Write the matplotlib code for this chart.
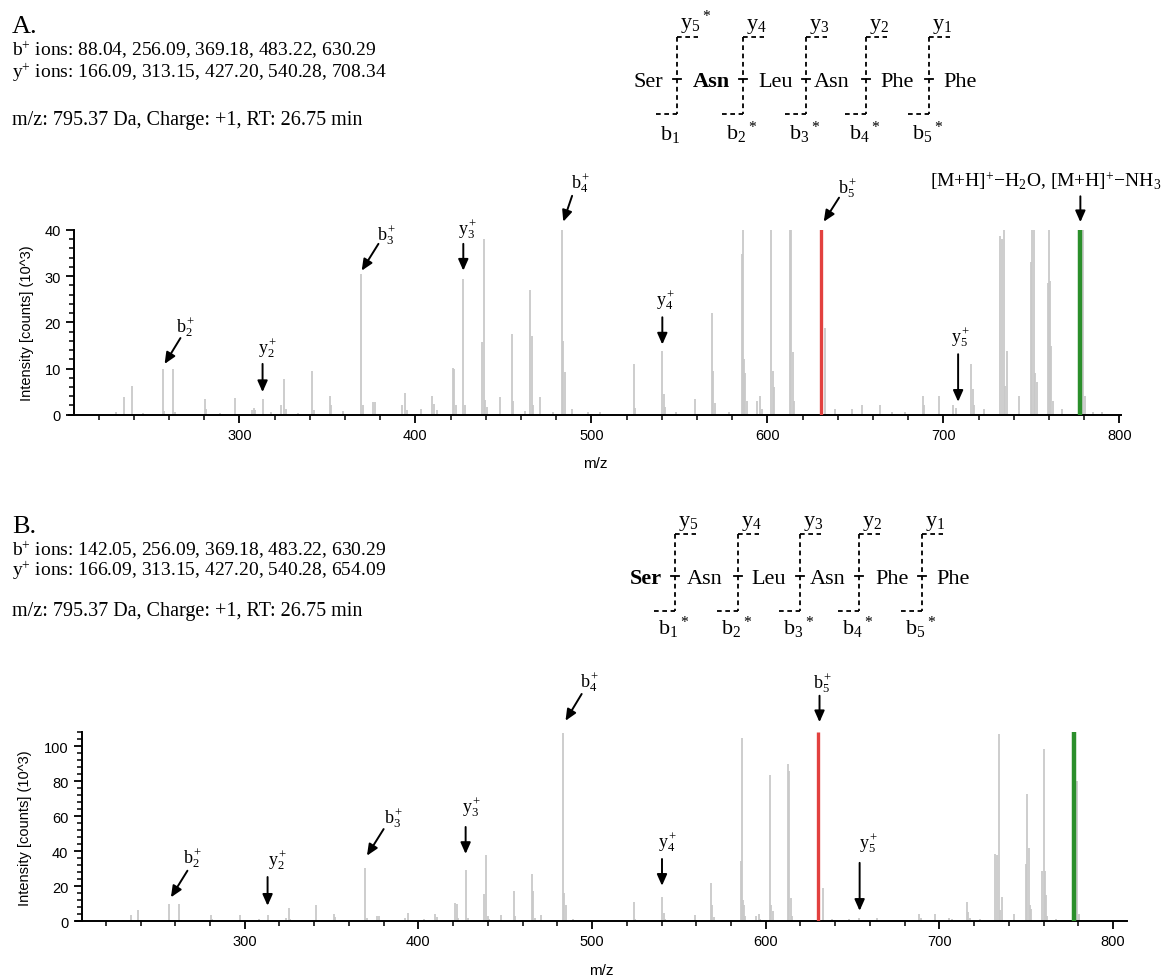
import matplotlib
matplotlib.use('Agg')
import matplotlib.pyplot as plt
from matplotlib.lines import Line2D
from matplotlib.ticker import MultipleLocator

plt.rcParams['mathtext.fontset'] = 'custom'
plt.rcParams['mathtext.rm'] = 'Liberation Serif'
plt.rcParams['mathtext.it'] = 'Liberation Serif:italic'
plt.rcParams['mathtext.bf'] = 'Liberation Serif:bold'
plt.rcParams['font.family'] = ['Liberation Sans', 'DejaVu Sans']

# ------------------------------------------------------------------ data
peak_mz = [230.0, 234.3, 238.7, 245.0, 256.5, 257.3, 262.4, 263.2, 280.3, 281.0,
           289.0, 297.5, 307.0, 308.2, 309.0, 313.4, 318.0, 323.8, 325.4, 326.2,
           333.0, 341.3, 342.2, 351.4, 352.2, 358.6, 369.2, 370.2, 376.0, 377.2,
           392.4, 394.1, 395.0, 403.0, 409.3, 410.6, 412.0, 421.3, 422.0, 422.8,
           427.2, 428.4, 437.8, 438.9, 439.8, 440.6, 447.8, 454.8, 455.7, 462.0,
           465.2, 466.1, 467.0, 470.7, 478.0, 483.2, 484.1, 485.0, 489.0, 498.0,
           505.0, 524.1, 525.0, 540.3, 541.2, 542.0, 548.0, 559.0, 568.5, 569.3,
           570.2, 578.0, 585.6, 586.1, 586.8, 587.4, 588.2, 594.3, 596.0, 597.0,
           602.3, 603.2, 604.0, 612.6, 613.5, 614.4, 615.3, 632.8, 638.3, 648.2,
           654.0, 664.0, 671.0, 678.0, 688.4, 689.2, 697.5, 705.3, 707.0, 715.9,
           716.7, 717.5, 723.3, 732.3, 733.2, 734.2, 735.2, 736.2, 742.7, 749.9,
           750.6, 751.4, 752.3, 753.0, 759.3, 760.0, 760.6, 761.3, 762.0, 767.2,
           779.5, 780.6, 785.0, 790.0]
peak_int = [0.5, 3.8, 6.3, 0.4, 9.9, 0.8, 9.9, 0.6, 3.4, 1.2,
            0.4, 3.6, 1.0, 1.4, 1.0, 3.4, 0.5, 2.0, 7.7, 1.2,
            0.4, 9.5, 1.0, 4.0, 2.2, 0.9, 30.5, 2.0, 2.8, 2.8,
            2.0, 4.8, 1.0, 1.2, 4.1, 2.4, 1.0, 10.2, 10.0, 2.0,
            29.4, 2.0, 15.7, 38.0, 3.2, 1.6, 3.8, 17.5, 3.0, 0.8,
            26.9, 17.1, 2.0, 3.8, 0.6, 107.5, 16.0, 9.2, 1.2, 0.5,
            0.6, 10.9, 1.5, 13.8, 4.5, 1.6, 0.6, 3.4, 22.1, 9.5,
            2.5, 0.5, 34.7, 104.6, 12.0, 9.1, 3.0, 3.0, 4.1, 1.2,
            83.6, 9.5, 6.0, 89.9, 86.0, 13.5, 3.0, 18.8, 1.2, 1.2,
            2.0, 2.0, 0.6, 0.6, 4.1, 2.0, 4.1, 2.0, 1.5, 10.9,
            5.5, 2.0, 1.2, 38.6, 38.0, 107.0, 6.3, 13.8, 4.1, 33.0,
            73.0, 42.0, 9.1, 7.0, 28.6, 98.5, 29.0, 14.9, 3.0, 1.2,
            80.0, 4.1, 0.6, 0.5]
b5_mz, b5_int = 630.29, 108.0          # red highlighted fragment
mh_mz, mh_int = 777.8, 108.0           # green highlighted precursor-loss peak

panel_letters = ['A.', 'B.']
b_ions = ['88.04, 256.09, 369.18, 483.22, 630.29',
          '142.05, 256.09, 369.18, 483.22, 630.29']
y_ions = ['166.09, 313.15, 427.20, 540.28, 708.34',
          '166.09, 313.15, 427.20, 540.28, 654.09']
precursor = 'm/z: 795.37 Da, Charge: +1, RT: 26.75 min'
residues = ['Ser', 'Asn', 'Leu', 'Asn', 'Phe', 'Phe']
bold_residue = [1, 0]
y_frag_labels = [['y_5{}^*', 'y_4', 'y_3', 'y_2', 'y_1'],
                 ['y_5', 'y_4', 'y_3', 'y_2', 'y_1']]
b_frag_labels = [['b_1', 'b_2{}^*', 'b_3{}^*', 'b_4{}^*', 'b_5{}^*'],
                 ['b_1{}^*', 'b_2{}^*', 'b_3{}^*', 'b_4{}^*', 'b_5{}^*']]

ions_A = [('b_2^+', 256.09), ('y_2^+', 313.15), ('b_3^+', 369.18), ('y_3^+', 427.20),
          ('b_4^+', 483.22), ('y_4^+', 540.28), ('b_5^+', 630.29), ('y_5^+', 708.34)]
ions_B = [('b_2^+', 256.09), ('y_2^+', 313.15), ('b_3^+', 369.18), ('y_3^+', 427.20),
          ('b_4^+', 483.22), ('y_4^+', 540.28), ('b_5^+', 630.29), ('y_5^+', 654.09)]
mh_label = '[M+H]$^{+}$\u2212H$_{2}$O, [M+H]$^{+}$\u2212NH$_{3}$'

# ------------------------------------------------------------------ style / layout
W, H = 1166, 978
GRAY = '#c9c9c9'
RED = '#e2413f'
GREEN = '#2b8f2b'
SERIF = 'Liberation Serif'

# arrow layout per ion: (tip dx, tip y, tail dx, tail y, label dx, label y)
arrows_A = [(1.4, 11.0, 10.4, 16.6, 13.5, 19.2),
            (0.0, 4.9, 0.0, 11.0, 2.9, 14.6),
            (0.3, 31.2, 9.8, 37.0, 14.4, 39.2),
            (0.0, 31.2, 0.0, 37.0, 2.8, 40.3),
            (0.8, 41.8, 5.8, 47.4, 10.8, 50.3),
            (0.0, 15.2, 0.0, 21.1, 1.7, 25.0),
            (1.7, 41.8, 10.4, 47.0, 15.5, 49.2),
            (0.0, 2.8, 0.0, 13.1, 1.4, 17.1)]
arrows_B = [(1.4, 13.7, 10.9, 28.9, 14.1, 36.5),
            (0.0, 8.9, 0.0, 25.3, 5.6, 35.6),
            (1.2, 37.5, 10.8, 52.7, 16.8, 59.6),
            (0.0, 38.5, 0.0, 53.9, 3.8, 66.0),
            (1.5, 114.6, 10.8, 129.9, 15.5, 137.3),
            (0.0, 20.3, 0.0, 35.6, 3.3, 46.0),
            (0.7, 113.8, 0.7, 128.9, 2.7, 136.6),
            (0.0, 6.0, 0.0, 33.4, 5.1, 45.1)]


def fx(x):
    return x / W


def fy(y):
    return 1 - y / H


fig = plt.figure(figsize=(W / 100, H / 100), dpi=100)

axA = fig.add_axes([fx(68.7), fy(415.7), 1052.5 / W, (415.7 - 231.0) / H])
axB = fig.add_axes([fx(76.3), fy(922.3), 1050.6 / W, (922.3 - 733.3) / H])


def draw_spectrum(ax, xlim, ymax, ymaj, ymin):
    ax.vlines(peak_mz, 0, peak_int, color=GRAY, lw=1.3, zorder=2)
    ax.vlines([b5_mz], 0, [b5_int], color=RED, lw=2.4, zorder=3)
    ax.vlines([mh_mz], 0, [mh_int], color=GREEN, lw=3.2, zorder=3)
    ax.set_xlim(*xlim)
    ax.set_ylim(0, ymax)
    for s in ['top', 'right']:
        ax.spines[s].set_visible(False)
    ax.spines['left'].set_position(('data', 206))
    for s in ['left', 'bottom']:
        ax.spines[s].set_linewidth(1.4)
    ax.xaxis.set_major_locator(MultipleLocator(100))
    ax.xaxis.set_minor_locator(MultipleLocator(20))
    ax.yaxis.set_major_locator(MultipleLocator(ymaj))
    ax.yaxis.set_minor_locator(MultipleLocator(ymin))
    ax.tick_params(which='major', length=6, width=1.3, labelsize=10.5, direction='out')
    ax.tick_params(which='minor', length=3.5, width=1.1, direction='out')
    ax.set_xlabel('m/z', fontsize=11)
    ax.set_ylabel('Intensity [counts] (10^3)', fontsize=10.5)
    ax.patch.set_visible(False)


draw_spectrum(axA, (203, 801), 40, 10, 2)
draw_spectrum(axB, (203, 808), 108, 20, 4)
axA.yaxis.set_label_coords(-0.033, 0.5)
axB.yaxis.set_label_coords(-0.042, 0.5)
axA.xaxis.set_label_coords(0.5, -0.224)
axB.xaxis.set_label_coords(0.5, -0.221)

ARROW = dict(arrowstyle='-|>,head_length=0.45,head_width=0.2', color='black',
             lw=1.4, mutation_scale=15, shrinkA=0, shrinkB=0)


def draw_ions(ax, ions, arrows):
    for (lab, mz), (tdx, ty, sdx, sy, ldx, ly) in zip(ions, arrows):
        ax.annotate('', xy=(mz + tdx, ty), xytext=(mz + sdx, sy),
                    arrowprops=ARROW, annotation_clip=False)
        ax.text(mz + ldx, ly, r'$\mathrm{' + lab + '}$', ha='center', va='center',
                fontsize=13, clip_on=False)


draw_ions(axA, ions_A, arrows_A)
draw_ions(axB, ions_B, arrows_B)
axA.annotate('', xy=(mh_mz, 41.7), xytext=(mh_mz, 47.3), arrowprops=ARROW,
             annotation_clip=False)
fig.text(fx(930), fy(187), mh_label, fontsize=14, family=SERIF, va='baseline')

# ------------------------------------------------------------------ header text
header_y = [(33, 56, 78, 125), (533, 556, 576, 616)]
for i in range(2):
    ya, yb, yy, ym = header_y[i]
    fig.text(fx(12), fy(ya), panel_letters[i], fontsize=19, family=SERIF, va='baseline')
    fig.text(fx(12), fy(yb), r'b$^{+}$ ions: ' + b_ions[i], fontsize=14,
             family=SERIF, va='baseline')
    fig.text(fx(12), fy(yy), r'y$^{+}$ ions: ' + y_ions[i], fontsize=14,
             family=SERIF, va='baseline')
    fig.text(fx(12), fy(ym), precursor, fontsize=14.5, family=SERIF, va='baseline')

# ------------------------------------------------------------------ fragment maps
diag = [dict(seq=87, top=38, bot=115, ylab=29, blab=140,
             vx=[677, 743, 806, 866, 929], rx=[648, 711, 776, 832, 897, 960]),
        dict(seq=584, top=535, bot=612, ylab=526, blab=635,
             vx=[675, 738, 800, 859, 922], rx=[646, 705, 769, 828, 892, 953])]
DASH = (0, (2.6, 2.0))


def fline(x0, y0, x1, y1, ls=DASH):
    fig.add_artist(Line2D([fx(x0), fx(x1)], [fy(y0), fy(y1)], transform=fig.transFigure,
                          color='black', lw=1.3, ls=ls))


for i, d in enumerate(diag):
    for j, (res, x) in enumerate(zip(residues, d['rx'])):
        fig.text(fx(x), fy(d['seq']), res, fontsize=16, family=SERIF, ha='center',
                 va='baseline', fontweight='bold' if j == bold_residue[i] else 'normal')
    for j, x in enumerate(d['vx']):
        fline(x, d['top'], x, d['bot'])
        fline(x, d['top'], x + 21, d['top'])
        fline(x - 21, d['bot'], x, d['bot'])
        fline(x - 4, d['seq'] - 7, x + 4, d['seq'] - 7, ls='-')
        fig.text(fx(x + 3), fy(d['ylab']), r'$\mathrm{' + y_frag_labels[i][j] + '}$',
                 fontsize=16, ha='left', va='baseline')
        fig.text(fx(x - 17), fy(d['blab']), r'$\mathrm{' + b_frag_labels[i][j] + '}$',
                 fontsize=16, ha='left', va='baseline')

fig.savefig('out.png', dpi=100)
